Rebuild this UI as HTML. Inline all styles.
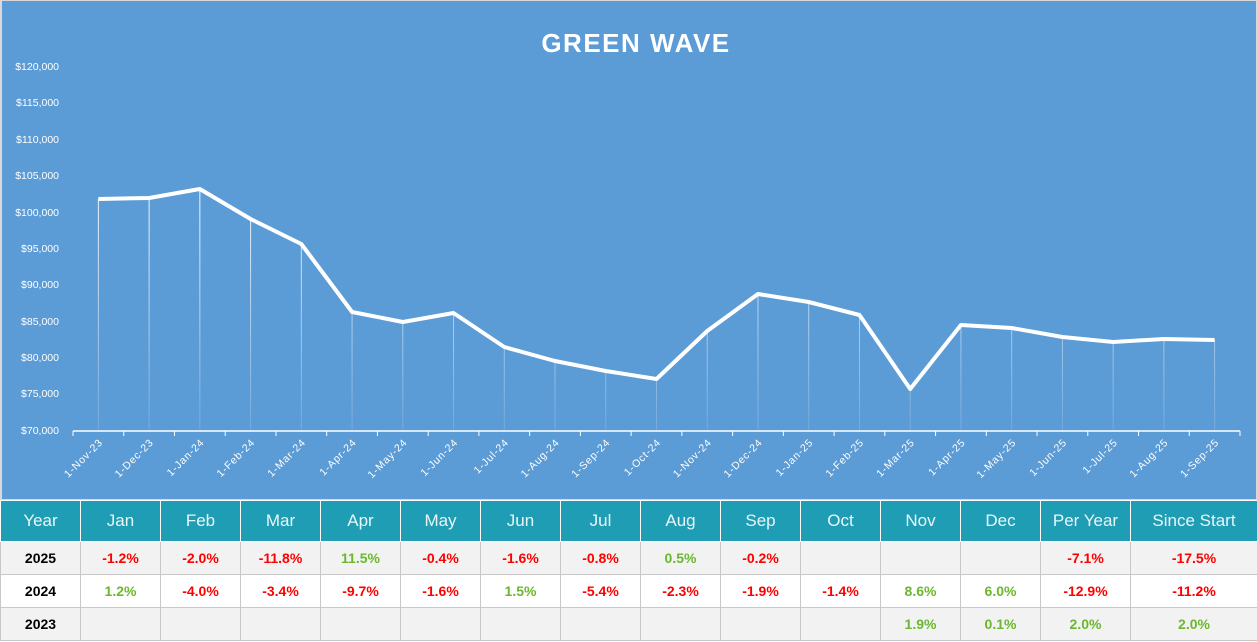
<!DOCTYPE html>
<html><head><meta charset="utf-8"><style>
body{margin:0;width:1257px;height:642px;overflow:hidden;background:#fff;font-family:"Liberation Sans",sans-serif}
svg{position:absolute;left:0;top:0}
table{position:absolute;left:0;top:500px;border-collapse:collapse;table-layout:fixed;width:1257px}
td{border:1px solid #c8c8c8;text-align:center;font-weight:bold;font-size:14px;height:32px;padding:0}
tr.h td{background:#1f9db4;color:#e8f6f8;font-weight:normal;font-size:17px;height:40px;border-color:#fff}
tr.a td{background:#f2f2f2}tr.b td{background:#fff}
.r{color:#f00}.g{color:#6ab82e}
</style></head><body>
<svg width="1257" height="500">
<defs><linearGradient id="fd" gradientUnits="userSpaceOnUse" x1="0" y1="190" x2="0" y2="430"><stop offset="0" stop-color="#fff" stop-opacity="0.95"/><stop offset="1" stop-color="#fff" stop-opacity="0.15"/></linearGradient></defs>
<rect x="0" y="0" width="1257" height="500" fill="#d9d9d9"/>
<rect x="2" y="1" width="1254" height="498" fill="#5b9bd6"/>
<text x="636" y="52" text-anchor="middle" fill="#fff" font-size="26" font-weight="bold" letter-spacing="1.5">GREEN WAVE</text>
<g fill="#fff" font-size="10.5" text-anchor="end">
<text x="59" y="70">$120,000</text><text x="59" y="106">$115,000</text><text x="59" y="143">$110,000</text><text x="59" y="179">$105,000</text><text x="59" y="216">$100,000</text><text x="59" y="252">$95,000</text><text x="59" y="288">$90,000</text><text x="59" y="325">$85,000</text><text x="59" y="361">$80,000</text><text x="59" y="397">$75,000</text><text x="59" y="434">$70,000</text>
</g>
<g id="drops" stroke="url(#fd)" stroke-width="1"></g>
<polyline id="ln" fill="none" stroke="#fff" stroke-width="4" stroke-linejoin="round"/>
<line x1="73" y1="431" x2="1240" y2="431" stroke="#fff" stroke-width="1.5"/>
<g id="ticks" stroke="#fff" stroke-width="1"></g>
<g id="lbl" fill="#fff" font-size="10.5" text-anchor="end" letter-spacing="0.8"></g>
</svg>
<table>
<colgroup><col style="width:80px"><col style="width:80px"><col style="width:80px"><col style="width:80px"><col style="width:80px"><col style="width:80px"><col style="width:80px"><col style="width:80px"><col style="width:80px"><col style="width:80px"><col style="width:80px"><col style="width:80px"><col style="width:80px"><col style="width:90px"><col style="width:127px"></colgroup>
<tr class="h"><td>Year</td><td>Jan</td><td>Feb</td><td>Mar</td><td>Apr</td><td>May</td><td>Jun</td><td>Jul</td><td>Aug</td><td>Sep</td><td>Oct</td><td>Nov</td><td>Dec</td><td>Per Year</td><td>Since Start</td></tr>
<tr class="a"><td>2025</td><td class="r">-1.2%</td><td class="r">-2.0%</td><td class="r">-11.8%</td><td class="g">11.5%</td><td class="r">-0.4%</td><td class="r">-1.6%</td><td class="r">-0.8%</td><td class="g">0.5%</td><td class="r">-0.2%</td><td></td><td></td><td></td><td class="r">-7.1%</td><td class="r">-17.5%</td></tr>
<tr class="b"><td>2024</td><td class="g">1.2%</td><td class="r">-4.0%</td><td class="r">-3.4%</td><td class="r">-9.7%</td><td class="r">-1.6%</td><td class="g">1.5%</td><td class="r">-5.4%</td><td class="r">-2.3%</td><td class="r">-1.9%</td><td class="r">-1.4%</td><td class="g">8.6%</td><td class="g">6.0%</td><td class="r">-12.9%</td><td class="r">-11.2%</td></tr>
<tr class="a"><td>2023</td><td></td><td></td><td></td><td></td><td></td><td></td><td></td><td></td><td></td><td></td><td class="g">1.9%</td><td class="g">0.1%</td><td class="g">2.0%</td><td class="g">2.0%</td></tr>
</table>
<script>
var ys=[199,198,189,219,244,312,322,313,347,361,371,379,331,294,302,315,389,325,328,337,342,339,340];
var L=["1-Nov-23","1-Dec-23","1-Jan-24","1-Feb-24","1-Mar-24","1-Apr-24","1-May-24","1-Jun-24","1-Jul-24","1-Aug-24","1-Sep-24","1-Oct-24","1-Nov-24","1-Dec-24","1-Jan-25","1-Feb-25","1-Mar-25","1-Apr-25","1-May-25","1-Jun-25","1-Jul-25","1-Aug-25","1-Sep-25"];
var ns="http://www.w3.org/2000/svg",w=1167/23,pts=[];
var D=document.getElementById("drops"),T=document.getElementById("ticks"),G=document.getElementById("lbl");
for(var k=0;k<=23;k++){var t=document.createElementNS(ns,"line");var x=73+w*k;t.setAttribute("x1",x);t.setAttribute("x2",x);t.setAttribute("y1",431);t.setAttribute("y2",436);T.appendChild(t);}
ys.forEach(function(y,i){var x=73+w*(i+0.5);pts.push(x.toFixed(1)+","+y);
var l=document.createElementNS(ns,"line");l.setAttribute("x1",x);l.setAttribute("x2",x+0.01);l.setAttribute("y1",y);l.setAttribute("y2",430);D.appendChild(l);
var tx=document.createElementNS(ns,"text");tx.setAttribute("transform","translate("+(x+5)+",443) rotate(-45)");tx.textContent=L[i];G.appendChild(tx);});
document.getElementById("ln").setAttribute("points",pts.join(" "));
</script>
</body></html>
